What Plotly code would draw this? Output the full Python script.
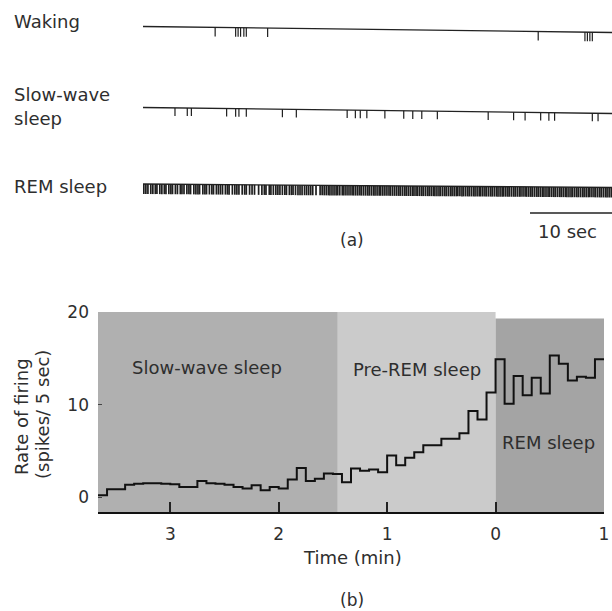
import plotly.graph_objects as go

# ---------------- data ----------------
# Panel (a): spike times in seconds along a 57.2 s trace
trace_len_s = 57.2
waking_spikes = [8.8, 11.3, 11.6, 11.9, 12.3, 12.6, 15.2, 48.2, 53.9, 54.2, 54.5, 54.8]
sws_spikes = [3.9, 5.4, 5.9, 10.2, 11.3, 11.7, 12.6, 17.0, 18.7, 24.9, 25.9, 26.5,
              27.3, 29.5, 31.8, 32.9, 34.0, 35.9, 42.1, 45.2, 46.6, 48.5, 49.5, 50.2,
              54.8, 55.5]
rem_spikes = [0.1, 0.35, 0.6, 0.95, 1.2, 1.5, 1.7, 2.05, 2.3, 2.6, 2.8, 3.15, 3.4, 3.6,
              3.95, 4.2, 4.55, 4.75, 5.0, 5.35, 5.6, 5.8, 6.2, 6.45, 6.7, 6.9, 7.3, 7.55,
              7.75, 8.1, 8.4, 8.6, 8.95, 9.2, 9.45, 9.7, 10.05, 10.3, 10.5, 10.9, 11.2,
              11.45, 11.7, 12.1, 12.4, 12.6, 13.0, 13.3, 13.6, 14.1, 14.5, 14.8, 15.0,
              15.4, 15.6, 15.9, 16.2, 16.45, 16.7, 17.0, 17.3, 17.5, 17.85, 18.1, 18.3,
              18.6, 18.9, 19.15, 19.4, 19.7, 19.95, 20.2, 20.45, 20.7, 21.1, 21.6, 21.85,
              22.1, 22.35, 22.6, 22.8, 23.05, 23.3, 23.55, 23.75, 24.0, 24.3, 24.5, 24.75,
              25.0, 25.25, 25.5, 25.7, 25.95, 26.2, 26.45, 26.65, 26.9, 27.15, 27.4, 27.6,
              27.85, 28.1, 28.3, 28.55, 28.8, 29.0, 29.25, 29.5, 29.75, 30.0, 30.2, 30.45,
              30.7, 30.95, 31.2, 31.4, 31.65, 31.9, 32.1, 32.35, 32.6, 32.85, 33.05, 33.3,
              33.5, 33.75, 34.0, 34.2, 34.45, 34.7, 34.9, 35.15, 35.4, 35.6, 35.85, 36.1,
              36.3, 36.55, 36.8, 37.0, 37.25, 37.5, 37.7, 37.95, 38.2, 38.4, 38.65, 38.9,
              39.1, 39.35, 39.6, 39.8, 40.05, 40.3, 40.5, 40.75, 41.0, 41.2, 41.45, 41.7,
              41.9, 42.15, 42.4, 42.6, 42.85, 43.1, 43.3, 43.55, 43.8, 44.0, 44.25, 44.5,
              44.7, 44.95, 45.2, 45.4, 45.65, 45.9, 46.1, 46.35, 46.6, 46.8, 47.05, 47.3,
              47.5, 47.75, 48.0, 48.2, 48.45, 48.7, 48.9, 49.15, 49.4, 49.6, 49.85, 50.1,
              50.3, 50.55, 50.8, 51.0, 51.25, 51.5, 51.7, 51.95, 52.2, 52.4, 52.65, 52.9,
              53.1, 53.35, 53.6, 53.8, 54.05, 54.3, 54.5, 54.75, 55.0, 55.2, 55.45, 55.7,
              55.9, 56.15, 56.4, 56.6, 56.85, 57.1]
scale_bar_s = 10

# Panel (b): firing rate (spikes / 5 sec) in 5-second bins
bin_sec = 5
first_bin = -44          # bins counted from REM onset (0 min)
rate_before_rem = [0.2, 0.85, 0.85, 1.35, 1.45, 1.5, 1.5, 1.45, 1.4, 1.1, 1.1, 1.75,
                   1.5, 1.45, 1.35, 1.1, 0.95, 1.3, 0.75, 1.1, 0.95, 1.9, 3.15, 1.75,
                   2.0, 2.55, 2.5, 1.6, 3.1, 2.85, 3.0, 2.7, 4.5, 3.45, 4.25, 4.85,
                   5.6, 5.6, 6.3, 6.3, 6.9, 9.3, 8.4, 11.3]
rate_rem = [14.9, 10.1, 13.1, 11.0, 12.9, 11.2, 15.3, 14.4, 12.6, 13.0, 12.9, 14.9]

stage_names = ["Slow-wave sleep", "Pre-REM sleep", "REM sleep"]
stage_start = [-44 / 12, -1.455, 0.0]
stage_end = [-1.455, 0.0, 1.0]
stage_top = [20.0, 20.0, 19.3]

x_tickvals = [-3, -2, -1, 0, 1]
x_ticktext = ["3", "2", "1", "0", "1"]
y_tickvals = [0, 10, 20]

# ---------------- figure ----------------
W, H = 612, 611
FONT = "DejaVu Sans"
TXT = "#2e2e2e"

def px(xp):
    return xp / W

def py(yp):
    return 1 - yp / H

fig = go.Figure()

# ---- panel (a) ----
rows = [  # (spikes, baseline at start, baseline at end, tick length, tick width)
    (waking_spikes, 26.5, 32.5, 9, 1.2),
    (sws_spikes, 107.5, 113.5, 8, 1.2),
    (rem_spikes, 184.0, 187.5, 10, 1.7),
]
for spikes, b0, b1, ln, tw in rows:
    fig.add_trace(go.Scatter(x=[0, trace_len_s], y=[b0, b1], mode="lines",
                             line=dict(color="#222", width=1.3),
                             xaxis="x2", yaxis="y2", hoverinfo="skip", showlegend=False))
    xs, ys = [], []
    for t in spikes:
        b = b0 + (b1 - b0) * t / trace_len_s
        xs += [t, t, None]
        ys += [b, b + ln, None]
    fig.add_trace(go.Scatter(x=xs, y=ys, mode="lines",
                             line=dict(color="#1e1e1e", width=tw),
                             xaxis="x2", yaxis="y2", hoverinfo="skip", showlegend=False))

fig.add_trace(go.Scatter(x=[trace_len_s - scale_bar_s, trace_len_s], y=[213, 213],
                         mode="lines", line=dict(color="#222", width=1.5),
                         xaxis="x2", yaxis="y2", hoverinfo="skip", showlegend=False))

# ---- panel (b) ----
rates = rate_before_rem + rate_rem
edges = [(first_bin + i) * bin_sec / 60 for i in range(len(rates) + 1)]
fig.add_trace(go.Scatter(x=edges, y=rates + [rates[-1]], mode="lines",
                         line=dict(color="#111", width=2, shape="hv"),
                         xaxis="x", yaxis="y", hoverinfo="skip", showlegend=False))

stage_colors = ["#b0b0b0", "#cbcbcb", "#a4a4a4"]
shapes = []
for s0, s1, top, col in zip(stage_start, stage_end, stage_top, stage_colors):
    shapes.append(dict(type="rect", xref="x", yref="y", x0=s0, x1=s1, y0=-1.6, y1=top,
                       fillcolor=col, line=dict(width=0), layer="below"))

ann = []
def add_text(text, xp, yp, size=18, xanchor="center", angle=0):
    ann.append(dict(text=text, x=px(xp), y=py(yp), xref="paper", yref="paper",
                    xanchor=xanchor, yanchor="middle", showarrow=False, textangle=angle,
                    font=dict(family=FONT, size=size, color=TXT)))

add_text("Waking", 12, 22, xanchor="left")
add_text("Slow-wave", 12, 95, xanchor="left")
add_text("sleep", 12, 118, xanchor="left")
add_text("REM sleep", 12, 187, xanchor="left")
add_text("(a)", 352, 240, size=17)
add_text("10 sec", 567, 231)
add_text(stage_names[0], 207, 367)
add_text(stage_names[1], 417, 369)
add_text(stage_names[2], 548, 442)
add_text("Time (min)", 352, 557)
add_text("(b)", 352, 600, size=17)
add_text("Rate of firing", 22, 417, angle=-90)
add_text("(spikes/ 5 sec)", 42, 415, angle=-90)

fig.update_layout(
    width=W, height=H,
    margin=dict(l=0, r=0, t=0, b=0, autoexpand=False),
    paper_bgcolor="white", plot_bgcolor="white",
    shapes=shapes, annotations=ann,
    xaxis=dict(domain=[px(98), px(604)], range=[first_bin * bin_sec / 60, 1],
               tickvals=x_tickvals, ticktext=x_ticktext, automargin=False,
               ticks="inside", ticklen=10, tickwidth=1.5, tickcolor="#222",
               showline=True, linecolor="#111", linewidth=2,
               showgrid=False, zeroline=False, ticklabelstandoff=6,
               tickfont=dict(family=FONT, size=17, color=TXT), anchor="y"),
    yaxis=dict(domain=[py(512), py(312)], range=[-1.6, 20.0], automargin=False,
               tickvals=y_tickvals, ticks="inside", ticklen=4, tickwidth=1,
               tickcolor="#444", showline=False, showgrid=False, zeroline=False,
               ticklabelstandoff=8,
               tickfont=dict(family=FONT, size=17, color=TXT), anchor="x"),
    xaxis2=dict(domain=[px(143), 1], range=[0, trace_len_s], visible=False,
                automargin=False, anchor="y2"),
    yaxis2=dict(domain=[py(250), 1], range=[250, 0], visible=False,
                automargin=False, anchor="x2"),
)

fig.write_html("out.html")
